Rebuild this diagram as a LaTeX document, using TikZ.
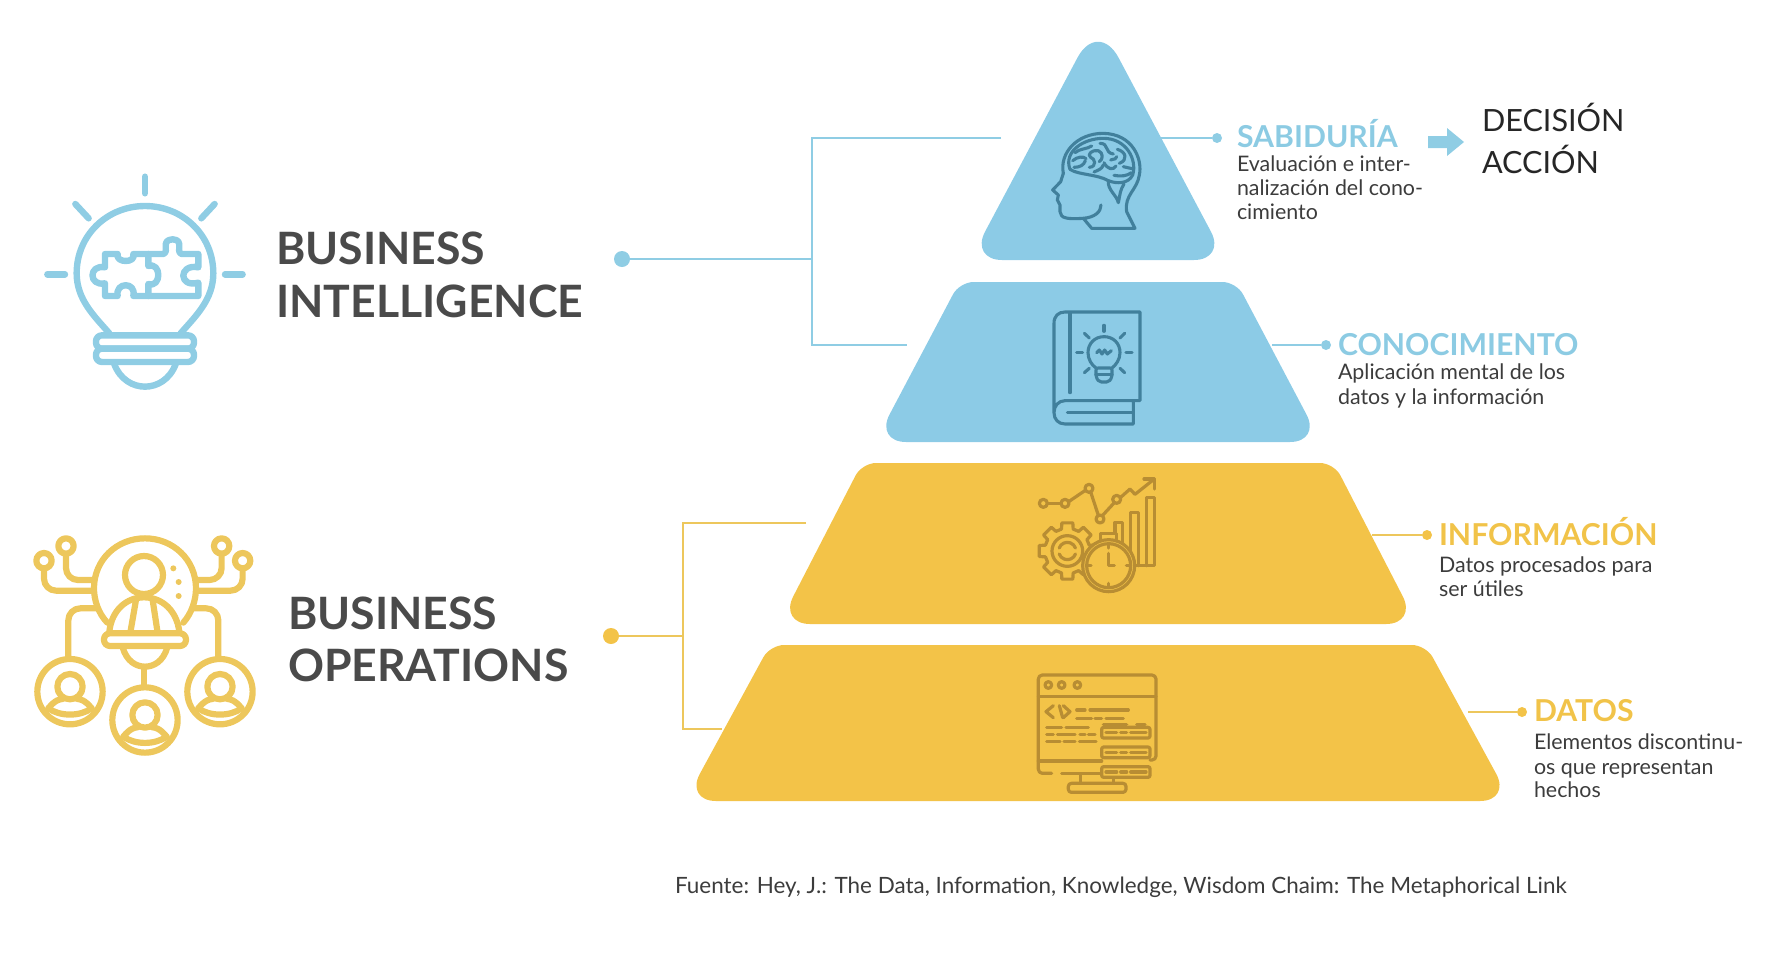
\documentclass[tikz,border=0pt]{standalone}
\usepackage{fontspec}
\setmainfont{Lato}
\definecolor{bluefill}{HTML}{8CCBE6}
\definecolor{goldfill}{HTML}{F3C348}
\definecolor{blueline}{HTML}{8FCDE4}
\definecolor{goldline}{HTML}{EDC75C}
\definecolor{blueicon}{HTML}{41809C}
\definecolor{goldicon}{HTML}{B88D33}
\definecolor{inktext}{HTML}{4A4A4A}
\definecolor{bodytext}{HTML}{3C3C3C}
\definecolor{bluetitle}{HTML}{8CCBE3}
\definecolor{goldtitle}{HTML}{F1C349}
\tikzset{
  txt/.style={anchor=base west,inner sep=0pt,outer sep=0pt,align=left},
  bigtitle/.style={txt,text=inktext,font=\fontsize{44.6}{44.6}\selectfont\bfseries},
  leveltitle/.style={txt,font=\fontsize{30.2}{30.2}\selectfont\bfseries},
  leveldesc/.style={txt,text=bodytext,font=\fontsize{21.4}{24.4}\selectfont},
  decis/.style={txt,text=black!85,font=\fontsize{30.6}{30.6}\selectfont},
  dotnode/.style={circle,inner sep=0pt,minimum size=#1},
  conn/.style={line width=2.8pt},
  ico/.style={line width=#1,line cap=round,line join=round},
}
\begin{document}
\begin{tikzpicture}[x=1pt,y=-1pt]
\useasboundingbox (0,0) rectangle (1784,967);

% pyramid layers
\fill[bluefill] (1098,260) [rounded corners=32pt] -- (970,260) [rounded corners=44pt] -- (1098,19) [rounded corners=32pt] -- (1226,260) [sharp corners] -- cycle;
\fill[bluefill] (1098,442) [rounded corners=31pt] -- (875,442) [rounded corners=14pt] -- (959.5,282) -- (1236.5,282) [rounded corners=31pt] -- (1321,442) [sharp corners] -- cycle;
\fill[goldfill] (1098,624) [rounded corners=31pt] -- (779,624) [rounded corners=14pt] -- (862,463) -- (1334,463) [rounded corners=31pt] -- (1417,624) [sharp corners] -- cycle;
\fill[goldfill] (1098,801) [rounded corners=31pt] -- (685,801) [rounded corners=14pt] -- (770,645) -- (1426,645) [rounded corners=31pt] -- (1511,801) [sharp corners] -- cycle;

% free ends and junctions
\coordinate (biA) at (1001,138);
\coordinate (biB) at (907,345);
\coordinate (biJ) at (812,259);
\coordinate (boA) at (806,523);
\coordinate (boB) at (722,729);
\coordinate (boJ) at (683,636);
\coordinate (sabE) at (1161,138);
\coordinate (conE) at (1272,345);
\coordinate (infE) at (1372,535);
\coordinate (datE) at (1468,712);

% dots
\node[dotnode=16pt,fill=blueline] (biDot) at (622,259) {};
\node[dotnode=16pt,fill=goldfill] (boDot) at (611,636) {};
\node[dotnode=10pt,fill=blueline] (sabDot) at (1217,138) {};
\node[dotnode=10pt,fill=blueline] (conDot) at (1326,345) {};
\node[dotnode=10pt,fill=goldfill] (infDot) at (1427,535) {};
\node[dotnode=10pt,fill=goldfill] (datDot) at (1522,712) {};

% connectors
\draw[conn,blueline] (biDot) -- (biJ);
\draw[conn,blueline] (biA) -| (biJ) |- (biB);
\draw[conn,goldline] (boDot) -- (boJ);
\draw[conn,goldline] (boA) -| (boJ) |- (boB);
\draw[conn,blueline] (sabE) -- (sabDot);
\draw[conn,blueline] (conE) -- (conDot);
\draw[conn,goldline] (infE) -- (infDot);
\draw[conn,goldline] (datE) -- (datDot);

% block arrow
\fill[blueline] (1428,136) -- (1447,136) -- (1447,128) -- (1464,142) -- (1447,156) -- (1447,148) -- (1428,148) -- cycle;

% main labels
\node[bigtitle] (biT1) at (276,264) {BUSINESS};
\node[bigtitle] (biT2) at (276,317) {INTELLIGENCE};
\node[bigtitle] (boT1) at (288,629) {BUSINESS};
\node[bigtitle] (boT2) at (288,681) {OPERATIONS};

% level labels
\node[leveltitle,text=bluetitle] (sabT) at (1237,147) {SABIDURÍA};
\node[leveldesc] (sabL1) at (1237,171) {Evaluación e inter-};
\node[leveldesc] (sabL2) at (1237,195) {nalización del cono-};
\node[leveldesc] (sabL3) at (1237,219) {cimiento};
\node[leveltitle,text=bluetitle] (conT) at (1338,355) {CONOCIMIENTO};
\node[leveldesc] (conL1) at (1338,379) {Aplicación mental de los};
\node[leveldesc] (conL2) at (1338,404) {datos y la información};
\node[leveltitle,text=goldtitle] (infT) at (1439,545) {INFORMACIÓN};
\node[leveldesc] (infL1) at (1439,572) {Datos procesados para};
\node[leveldesc] (infL2) at (1439,596) {ser útiles};
\node[leveltitle,text=goldtitle] (datT) at (1534,721) {DATOS};
\node[leveldesc] (datL1) at (1534,749) {Elementos discontinu-};
\node[leveldesc] (datL2) at (1534,774) {os que representan};
\node[leveldesc] (datL3) at (1534,797) {hechos};
\node[decis] (dec) at (1482,131) {DECISIÓN};
\node[decis] (acc) at (1482,173) {ACCIÓN};
\node[txt,text=bodytext,font=\fontsize{22.45}{22.45}\selectfont] (src) at (675,893) {Fuente: Hey, J.: The Data, Information, Knowledge, Wisdom Chaim: The Metaphorical Link};

% bulb icon
\begin{scope}[shift={(20,160)},x=0.3333pt,y=-0.3333pt,blueline,ico=6.4pt]
  \draw (268,520) .. controls (225,470) and (170,420) .. (170,340) .. controls (170,225) and (262,138) .. (375,138) .. controls (488,138) and (580,225) .. (580,340) .. controls (580,420) and (525,470) .. (482,520);
  \draw (375,50) -- (375,100);
  \draw (166,132) -- (206,175);
  \draw (584,132) -- (544,175);
  \draw (82,343) -- (135,343);
  \draw (615,343) -- (668,343);
  \draw[rounded corners=6pt] (228,526) rectangle (522,566);
  \draw[rounded corners=6pt] (228,566) rectangle (522,606);
  \draw (282,610) .. controls (300,660) and (340,680) .. (375,680) .. controls (410,680) and (450,660) .. (468,610);
  % puzzle
  \draw (255,322) -- (255,282) -- (293,282) .. controls (285,310) and (350,310) .. (340,282) -- (385,282) -- (430,282) .. controls (450,275) and (420,240) .. (458,238) .. controls (495,240) and (465,275) .. (485,282) -- (535,282) -- (535,322) .. controls (475,310) and (475,385) .. (535,368) -- (535,408) -- (385,408) -- (340,408) .. controls (350,365) and (285,365) .. (293,408) -- (255,408) -- (255,370) .. controls (205,380) and (205,312) .. (255,322) -- cycle;
  \draw (385,282) -- (385,318) .. controls (425,305) and (425,385) .. (385,372) -- (385,408);
\end{scope}

% network icon
\begin{scope}[shift={(20,520)},x=0.3333pt,y=-0.3333pt,goldline,ico=6.2pt]
  \draw (262,308) .. controls (235,280) and (222,240) .. (222,205) .. controls (222,120) and (290,55) .. (375,55) .. controls (460,55) and (528,120) .. (528,205) .. controls (528,240) and (515,280) .. (490,308);
  \draw (372,165) circle (57);
  \draw (268,335) .. controls (275,270) and (320,232) .. (372,232) .. controls (425,232) and (470,270) .. (478,335);
  \draw (348,240) -- (332,332);
  \draw (398,240) -- (412,332);
  \draw[rounded corners=6pt] (252,340) rectangle (498,378);
  \draw (308,382) .. controls (320,425) and (350,440) .. (375,440) .. controls (400,440) and (430,425) .. (442,382);
  \draw (372,442) -- (372,495);
  \foreach \cx/\cy in {150/515,600/515,375/600}{
    \draw (\cx,\cy) circle (98);
    \draw (\cx,\cy-15) circle (38);
    \draw (\cx-65,\cy+50) .. controls (\cx-45,\cy+25) and (\cx-30,\cy+22) .. (\cx-22,\cy+22);
    \draw (\cx+65,\cy+50) .. controls (\cx+45,\cy+25) and (\cx+30,\cy+22) .. (\cx+22,\cy+22);
    \draw (\cx-65,\cy+50) .. controls (\cx-30,\cy+75) and (\cx+30,\cy+75) .. (\cx+65,\cy+50);
  }
  \draw (72,122) circle (23);
  \draw (138,78) circle (23);
  \draw (605,78) circle (23);
  \draw (668,122) circle (23);
  \draw[rounded corners=12pt] (218,212) -- (72,212) -- (72,146);
  \draw[rounded corners=12pt] (218,180) -- (138,180) -- (138,102);
  \draw[rounded corners=12pt] (530,180) -- (605,180) -- (605,102);
  \draw[rounded corners=12pt] (530,212) -- (668,212) -- (668,146);
  \draw[rounded corners=12pt] (228,265) -- (145,265) -- (145,415);
  \draw[rounded corners=12pt] (522,265) -- (595,265) -- (595,415);
  \fill (460,145) circle (9);
  \fill (476,186) circle (9);
  \fill (476,228) circle (9);
\end{scope}

% head icon
\begin{scope}[shift={(1020,110)},x=0.3333pt,y=-0.3333pt,blueicon,ico=3.1pt]
  \draw (130,190) .. controls (118,130) and (170,70) .. (250,70) .. controls (340,72) and (368,150) .. (358,195) .. controls (352,240) and (312,255) .. (320,305) -- (345,355) -- (215,355) -- (190,325) .. controls (225,322) and (243,305) .. (243,285);
  \draw (130,190) -- (122,215) -- (98,240) -- (115,255) -- (112,270) -- (120,285) -- (120,305) .. controls (122,325) and (140,328) .. (190,325);
  \draw (150,178) .. controls (130,125) and (190,85) .. (250,85) .. controls (320,85) and (352,150) .. (338,195) .. controls (325,222) and (290,222) .. (265,212);
  \draw (150,178) .. controls (175,195) and (230,192) .. (265,212);
  \draw (265,212) .. controls (262,240) and (290,255) .. (295,278) .. controls (300,255) and (300,240) .. (312,222);
  \draw (165,128) .. controls (180,115) and (200,118) .. (215,108);
  \draw (158,152) .. controls (172,140) and (190,138) .. (198,146);
  \draw (162,172) .. controls (180,172) and (192,165) .. (196,152);
  \draw (208,172) .. controls (232,170) and (225,145) .. (212,142) .. controls (200,135) and (215,118) .. (235,122) .. controls (250,128) and (250,148) .. (238,155);
  \draw (240,100) .. controls (268,100) and (252,128) .. (280,132);
  \draw (222,186) .. controls (235,180) and (245,178) .. (250,165);
  \draw (252,158) .. controls (262,178) and (280,182) .. (288,168);
  \draw (292,118) .. controls (318,125) and (325,150) .. (298,160);
  \draw (310,170) -- (336,176);
  \draw (282,196) .. controls (302,200) and (322,198) .. (334,188);
  \draw (272,150) .. controls (285,145) and (288,150) .. (290,140);
\end{scope}

% book icon
\begin{scope}[shift={(1030,300)},x=0.3333pt,y=-0.3333pt,blueicon,ico=3.1pt]
  \draw (72,338) -- (72,70) .. controls (72,48) and (85,36) .. (105,36) -- (330,36) -- (330,302) -- (105,302) .. controls (85,302) and (72,318) .. (72,338) .. controls (72,358) and (85,372) .. (105,372) -- (310,372) -- (310,302);
  \draw (112,338) -- (310,338);
  \draw (120,40) -- (120,278);
  \draw (198,204) .. controls (185,195) and (174,178) .. (174,158) .. controls (174,130) and (195,110) .. (222,110) .. controls (250,110) and (270,130) .. (270,158) .. controls (270,178) and (258,195) .. (246,204);
  \draw[rounded corners=2pt] (198,204) -- (246,204) -- (246,232) -- (236,246) -- (208,246) -- (198,232) -- cycle;
  \draw (198,224) -- (246,224);
  \draw (200,158) -- (208,150) -- (216,162) -- (224,150) -- (232,162) -- (244,152);
  \draw (222,76) -- (222,94);
  \draw (163,100) -- (178,114);
  \draw (284,100) -- (270,114);
  \draw (140,158) -- (158,158);
  \draw (288,158) -- (306,158);
  \draw (163,218) -- (178,205);
  \draw (284,218) -- (270,205);
\end{scope}

% chart and gear icon
\begin{scope}[shift={(1020,465)},x=0.3333pt,y=-0.3333pt,goldicon,ico=3.2pt]
  \draw (70,115) circle (12);
  \draw (135,115) circle (12);
  \draw (207,70) circle (12);
  \draw (240,162) circle (12);
  \draw (290,103) circle (12);
  \draw (82,115) -- (123,115);
  \draw (146,110) -- (196,76);
  \draw (212,81) -- (235,151);
  \draw (247,152) -- (283,113);
  \draw (301,98) -- (330,72) -- (345,88) -- (403,42);
  \draw (372,42) -- (403,42) -- (403,72);
  \draw (285,240) -- (285,172) -- (308,172) -- (308,302);
  \draw (332,302) -- (332,142) -- (356,142) -- (356,302);
  \draw (380,302) -- (380,97) -- (404,97) -- (404,302) -- (345,302);
  % gear
  \begin{scope}[shift={(142,258)}]
    \foreach \a in {0,45,...,315}{
      \draw (\a-15:68) -- (\a-11:86) -- (\a+11:86) -- (\a+15:68) -- (\a+30:68);
    }
    \draw (0,0) circle (46);
    \draw (20:26) arc (20:160:26);
    \draw (200:26) arc (200:340:26);
  \end{scope}
  \draw[fill=goldfill] (242,232) -- (242,205) -- (290,205) -- (290,232) -- cycle;
  \draw[fill=goldfill] (266,302) circle (78);
  \draw (266,302) circle (66);
  \draw (266,265) -- (266,302) -- (283,302);
  \draw (266,238) -- (266,249);
  \draw (266,355) -- (266,366);
  \draw (202,302) -- (213,302);
  \draw (319,302) -- (330,302);
\end{scope}

% code window icon
\begin{scope}[shift={(1020,665)},x=0.3333pt,y=-0.3333pt,goldicon,ico=3.2pt]
  \draw[rounded corners=4pt] (95,325) -- (55,325) -- (55,30) -- (408,30) -- (408,285) -- (390,285);
  \draw (125,325) -- (245,325);
  \draw (55,95) -- (408,95);
  \draw (55,288) -- (245,288);
  \draw (85,60) circle (10);
  \draw (125,60) circle (10);
  \draw (172,60) circle (10);
  \draw (100,122) -- (78,140) -- (100,158);
  \draw (128,158) -- (118,122);
  \draw (130,122) -- (150,140) -- (130,158);
  \draw (170,135) -- (195,135);
  \draw (210,135) -- (325,135);
  \draw (170,160) -- (215,160);
  \draw (225,160) -- (245,160);
  \draw (258,160) -- (310,160);
  \draw (80,188) -- (125,188);
  \draw (138,188) -- (205,188);
  \draw (80,208) -- (100,208);
  \draw (112,208) -- (165,208);
  \draw (180,208) -- (195,208);
  \draw (205,208) -- (225,208);
  \draw (80,230) -- (120,230);
  \draw (132,230) -- (165,230);
  \draw (178,230) -- (228,230);
  \draw (250,178) -- (320,178);
  \draw (350,178) -- (375,178);
  \foreach \ry in {187,246,305}{
    \draw[rounded corners=2pt,fill=goldfill] (245,\ry) rectangle (390,\ry+32);
    \draw (258,\ry+16) -- (290,\ry+16);
    \draw (302,\ry+16) -- (320,\ry+16);
    \draw (332,\ry+16) -- (378,\ry+16);
  }
  \draw (182,328) -- (182,355);
  \draw (280,338) -- (280,355);
  \draw[rounded corners=3pt] (145,355) rectangle (318,382);
\end{scope}
\end{tikzpicture}
\end{document}
